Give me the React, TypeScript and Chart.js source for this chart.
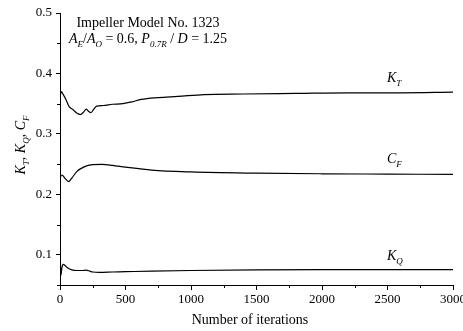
import React, { useEffect, useRef } from "react";
import { Chart, registerables } from "chart.js";

Chart.register(...registerables);

// ---- Data ----
const ktIter = [0, 10, 25, 45, 70, 100, 130, 155, 180, 200, 215, 235, 255, 280, 330, 400, 480, 550, 620, 750, 900, 1100, 1400, 1800, 2200, 2600, 3000];
const ktVals = [0.360, 0.370, 0.365, 0.357, 0.345, 0.340, 0.334, 0.332, 0.336, 0.341, 0.338, 0.335, 0.340, 0.346, 0.347, 0.349, 0.350, 0.353, 0.357, 0.360, 0.362, 0.365, 0.366, 0.367, 0.368, 0.368, 0.369];

const cfIter = [0, 15, 40, 65, 90, 130, 180, 250, 320, 400, 500, 700, 1000, 1500, 2000, 2500, 3000];
const cfVals = [0.228, 0.232, 0.226, 0.221, 0.227, 0.238, 0.245, 0.249, 0.2495, 0.248, 0.245, 0.240, 0.237, 0.235, 0.234, 0.2335, 0.233];

const kqIter = [0, 3, 7, 14, 25, 40, 60, 90, 130, 170, 200, 220, 250, 300, 400, 500, 700, 1000, 1500, 2000, 3000];
const kqVals = [0.135, 0.09, 0.066, 0.078, 0.084, 0.082, 0.078, 0.075, 0.074, 0.074, 0.0745, 0.0735, 0.0715, 0.071, 0.0715, 0.072, 0.073, 0.074, 0.075, 0.0755, 0.0755];

const xMajorTicks = [0, 500, 1000, 1500, 2000, 2500, 3000];
const xMinorTicks = [250, 750, 1250, 1750, 2250, 2750];
const yMajorTicks = [0.1, 0.2, 0.3, 0.4, 0.5];
const yMinorTicks = [0.05, 0.15, 0.25, 0.35, 0.45];

const FONT = '"Liberation Serif", "Times New Roman", serif';

type Seg = { t: string; it?: boolean; sub?: boolean };

function segFont(s: Seg, size: number) {
  const sz = s.sub ? Math.round(size * 0.62) : size;
  return `${s.it ? "italic " : ""}${sz}px ${FONT}`;
}

function drawRich(ctx: CanvasRenderingContext2D, segs: Seg[], x: number, y: number, align: "left" | "center", size: number) {
  let total = 0;
  const widths = segs.map((s) => {
    ctx.font = segFont(s, size);
    const w = ctx.measureText(s.t).width;
    total += w;
    return w;
  });
  let cx = align === "center" ? x - total / 2 : x;
  ctx.textBaseline = "alphabetic";
  ctx.textAlign = "left";
  segs.forEach((s, i) => {
    ctx.font = segFont(s, size);
    ctx.fillText(s.t, cx, s.sub ? y + size * 0.3 : y);
    cx += widths[i];
  });
}

const annotations = {
  id: "annotations",
  afterDraw(chart: any) {
    const ctx: CanvasRenderingContext2D = chart.ctx;
    const xs = chart.scales.x;
    const ys = chart.scales.y;
    const area = chart.chartArea;
    ctx.save();
    // minor ticks
    ctx.strokeStyle = "#000";
    ctx.lineWidth = 1;
    ctx.beginPath();
    yMinorTicks.forEach((v) => {
      const py = Math.round(ys.getPixelForValue(v)) + 0.5;
      ctx.moveTo(area.left - 3, py);
      ctx.lineTo(area.left, py);
    });
    xMinorTicks.forEach((v) => {
      const px = Math.round(xs.getPixelForValue(v)) + 0.5;
      ctx.moveTo(px, area.bottom);
      ctx.lineTo(px, area.bottom + 3);
    });
    ctx.stroke();

    ctx.fillStyle = "#000";
    // title lines
    drawRich(ctx, [{ t: "Impeller Model No. 1323" }], 148, 27, "center", 14);
    drawRich(
      ctx,
      [
        { t: "A", it: true },
        { t: "E", it: true, sub: true },
        { t: "/" },
        { t: "A", it: true },
        { t: "O", it: true, sub: true },
        { t: " = 0.6, " },
        { t: "P", it: true },
        { t: "0.7R", it: true, sub: true },
        { t: " / " },
        { t: "D", it: true },
        { t: " = 1.25" },
      ],
      148,
      43,
      "center",
      14
    );
    // curve labels
    drawRich(ctx, [{ t: "K", it: true }, { t: "T", it: true, sub: true }], 387, 82, "left", 14);
    drawRich(ctx, [{ t: "C", it: true }, { t: "F", it: true, sub: true }], 387, 163, "left", 14);
    drawRich(ctx, [{ t: "K", it: true }, { t: "Q", it: true, sub: true }], 387, 260, "left", 14);
    // x-axis title
    drawRich(ctx, [{ t: "Number of iterations" }], 250, 324, "center", 14);
    // y-axis title (rotated)
    ctx.save();
    ctx.translate(25, 145);
    ctx.rotate(-Math.PI / 2);
    drawRich(
      ctx,
      [
        { t: "K", it: true },
        { t: "T", it: true, sub: true },
        { t: ", " },
        { t: "K", it: true },
        { t: "Q", it: true, sub: true },
        { t: ", " },
        { t: "C", it: true },
        { t: "F", it: true, sub: true },
      ],
      0,
      0,
      "center",
      14
    );
    ctx.restore();
    ctx.restore();
  },
};

function toPoints(xs: number[], ys: number[]) {
  return xs.map((x, i) => ({ x, y: ys[i] }));
}

export default function App() {
  const ref = useRef<HTMLCanvasElement | null>(null);
  useEffect(() => {
    const canvas = ref.current!;
    const lineDs = (label: string, xs: number[], ys: number[]) => ({
      label,
      data: toPoints(xs, ys),
      borderColor: "#000",
      backgroundColor: "#000",
      borderWidth: 1.2,
      pointRadius: 0,
      fill: false,
      cubicInterpolationMode: "monotone" as const,
    });
    const chart = new Chart(canvas, {
      type: "line",
      data: {
        datasets: [lineDs("KT", ktIter, ktVals), lineDs("CF", cfIter, cfVals), lineDs("KQ", kqIter, kqVals)],
      },
      options: {
        animation: false,
        responsive: false,
        devicePixelRatio: 1,
        layout: { padding: { top: 13, right: 37, bottom: 0, left: 0 } },
        plugins: { legend: { display: false }, tooltip: { enabled: false }, title: { display: false } },
        scales: {
          x: {
            type: "linear",
            min: 0,
            max: 3000,
            afterFit: (s: any) => {
              s.height = 46;
            },
            afterBuildTicks: (s: any) => {
              s.ticks = xMajorTicks.map((v) => ({ value: v }));
            },
            grid: { drawOnChartArea: false, drawTicks: true, tickLength: 5, color: "#000", tickColor: "#000" },
            border: { display: true, color: "#000", width: 1 },
            ticks: {
              autoSkip: false,
              maxRotation: 0,
              padding: 2,
              color: "#000",
              font: { family: FONT, size: 13 },
              callback: (v: any) => String(v),
            },
          },
          y: {
            type: "linear",
            min: 0.05,
            max: 0.5,
            afterFit: (s: any) => {
              s.width = 60;
            },
            afterBuildTicks: (s: any) => {
              s.ticks = yMajorTicks.map((v) => ({ value: v }));
            },
            grid: { drawOnChartArea: false, drawTicks: true, tickLength: 4, color: "#000", tickColor: "#000" },
            border: { display: true, color: "#000", width: 1 },
            ticks: {
              autoSkip: false,
              padding: 4,
              color: "#000",
              font: { family: FONT, size: 13 },
              callback: (v: any) => Number(v).toFixed(1),
            },
          },
        },
      },
      plugins: [annotations],
    });
    return () => chart.destroy();
  }, []);
  return (
    <div style={{ position: "absolute", left: 0, top: 0, width: 463, height: 331, overflow: "hidden", background: "#fff" }}>
      <canvas ref={ref} width={490} height={331} style={{ display: "block" }} />
    </div>
  );
}
